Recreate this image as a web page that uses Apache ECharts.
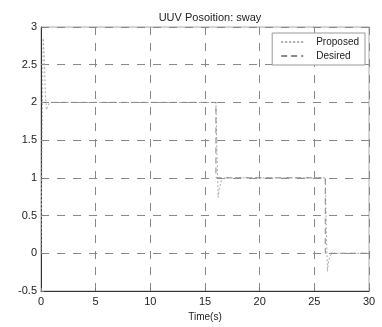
<!DOCTYPE html>
<html><head><meta charset="utf-8">
<script src="https://cdn.jsdelivr.net/npm/echarts@6/dist/echarts.min.js"></script>
<style>html,body{margin:0;padding:0;background:#fff}#c{width:382px;height:327px}</style>
</head><body><div id="c"></div>
<script>
var proposedT = [0, 0.1, 0.2, 0.3, 0.4, 0.5, 0.6, 0.8, 1.0, 1.5, 16.0, 16.1, 16.2, 16.3, 16.5, 16.8, 26.0, 26.1, 26.2, 26.3, 26.5, 26.8, 30];
var proposedY = [0, 1.5, 2.85, 2.6, 2.1, 1.9, 1.95, 2.0, 2.0, 2.0, 2.0, 1.3, 0.74, 0.85, 0.97, 1.0, 1.0, 0.3, -0.24, -0.1, -0.02, 0, 0];
var desiredT = [0, 16, 16, 26, 26, 30];
var desiredY = [2, 2, 1, 1, 0, 0];
var xTicks = [0, 5, 10, 15, 20, 25, 30];
var yTicks = [-0.5, 0, 0.5, 1, 1.5, 2, 2.5, 3];

function zip(a, b) { return a.map(function (v, i) { return [v, b[i]]; }); }
var font = 'Liberation Sans, Arial, sans-serif';
var chart = echarts.init(document.getElementById('c'), null, {renderer: 'canvas'});
chart.setOption({
  animation: false,
  backgroundColor: '#fff',
  title: {text: 'UUV Posoition: sway', left: 205, top: 7, textAlign: 'center',
    textStyle: {fontFamily: font, fontSize: 11, fontWeight: 'normal', color: '#222'}},
  grid: {left: 41, right: 13, top: 27, bottom: 29, show: true, borderColor: '#aaa', borderWidth: 1},
  legend: {
    orient: 'vertical', right: 17, top: 33, width: 87,
    backgroundColor: '#fff', borderColor: '#999', borderWidth: 1,
    padding: [4, 6, 4, 8], itemGap: 4, itemWidth: 22, itemHeight: 10,
    itemStyle: {opacity: 0},
    textStyle: {fontFamily: font, fontSize: 10, color: '#222', padding: [0, 0, 0, 8]},
    data: ['Proposed', 'Desired']
  },
  xAxis: {
    type: 'value', min: 0, max: 30, interval: 5,
    name: 'Time(s)', nameLocation: 'middle', nameGap: 21,
    nameTextStyle: {fontFamily: font, fontSize: 10, color: '#222'},
    axisLine: {show: true, onZero: false, lineStyle: {color: '#333'}},
    axisTick: {show: true, inside: true, length: 3, lineStyle: {color: '#777'}},
    axisLabel: {fontFamily: font, fontSize: 11, color: '#222', margin: 5,
      formatter: function (v) { return xTicks.indexOf(v) >= 0 ? String(v) : ''; }},
    splitLine: {show: true, lineStyle: {color: '#888', type: [8, 8], width: 1}}
  },
  yAxis: {
    type: 'value', min: -0.5, max: 3, interval: 0.5,
    axisLine: {show: true, onZero: false, lineStyle: {color: '#333'}},
    axisTick: {show: true, inside: true, length: 3, lineStyle: {color: '#777'}},
    axisLabel: {fontFamily: font, fontSize: 11, color: '#222', margin: 4,
      formatter: function (v) { return yTicks.indexOf(v) >= 0 ? String(v) : ''; }},
    splitLine: {show: true, lineStyle: {color: '#888', type: [8, 8], width: 1}}
  },
  series: [
    {name: 'Proposed', type: 'line', symbol: 'none', data: zip(proposedT, proposedY),
      lineStyle: {color: '#aaa', width: 1, type: [2, 2]}, itemStyle: {color: '#aaa'}},
    {name: 'Desired', type: 'line', symbol: 'none', data: zip(desiredT, desiredY),
      lineStyle: {color: '#888', width: 1, type: [6, 4]}, itemStyle: {color: '#888'}}
  ]
});
</script></body></html>
